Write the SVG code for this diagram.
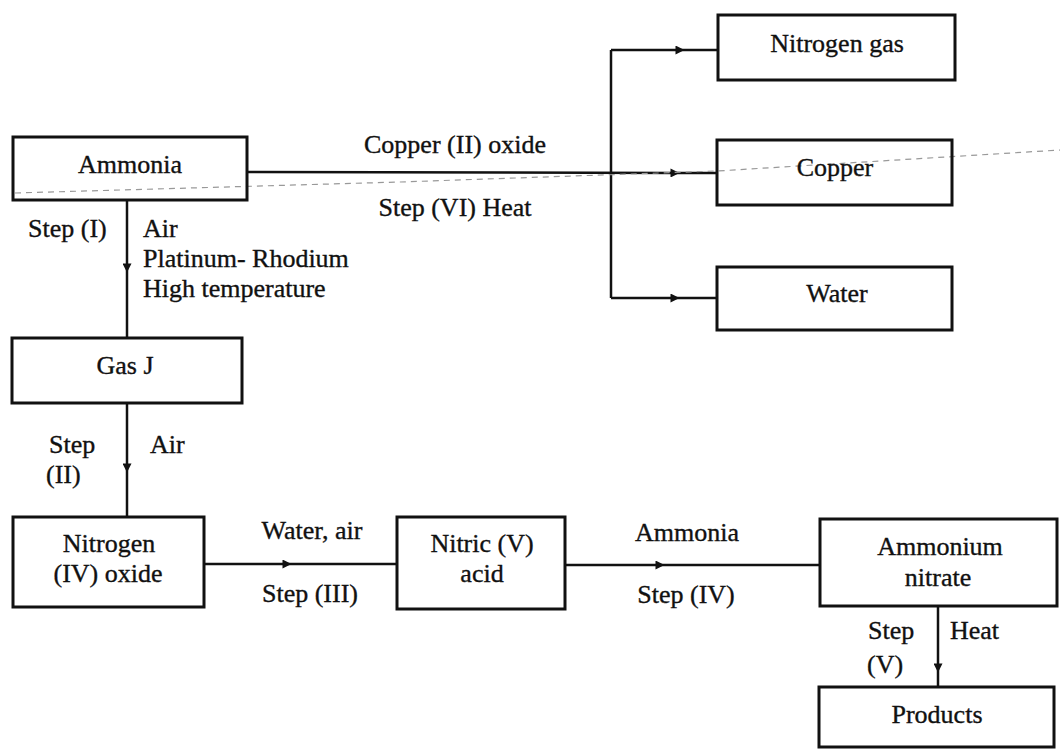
<svg xmlns="http://www.w3.org/2000/svg" width="1062" height="750" viewBox="0 0 1062 750">
<defs>
<style>
.box{fill:none;stroke:#111;stroke-width:3}
.ln{fill:none;stroke:#111;stroke-width:2.5}
.t{font-family:"Liberation Serif","Times New Roman",serif;font-size:26px;fill:#111;stroke:#111;stroke-width:0.35}
.c{text-anchor:middle}
.art{fill:none;stroke:#999;stroke-width:1.2;stroke-dasharray:6 5}
</style>
<marker id="ah" viewBox="0 0 10 10" refX="5" refY="5" markerWidth="14" markerHeight="9" markerUnits="userSpaceOnUse" orient="auto">
<path d="M0,0 L10,5 L0,10 Z" fill="#111"/>
</marker>
</defs>
<rect width="1062" height="750" fill="#fff"/>

<g id="connectors">
<path class="ln" d="M127,200 L127,268 L127,338" marker-mid="url(#ah)"/>
<path class="ln" d="M127,403 L127,468 L127,517" marker-mid="url(#ah)"/>
<path class="ln" d="M204,564 L287,564 L397,564" marker-mid="url(#ah)"/>
<path class="ln" d="M565,565 L660,565 L820,565" marker-mid="url(#ah)"/>
<path class="ln" d="M938,606 L938,668 L938,687" marker-mid="url(#ah)"/>
<path class="ln" d="M247,172 L675,173 L717,173" marker-mid="url(#ah)"/>
<path class="ln" d="M611,50 L611,298"/>
<path class="ln" d="M611,50 L680,50 L718,50" marker-mid="url(#ah)"/>
<path class="ln" d="M611,298 L675,298 L717,298" marker-mid="url(#ah)"/>
<polyline class="art" points="15,193 400,182 717,171 1060,150"/>
</g>

<g id="labels">
<text class="t" x="28" y="237">Step (I)</text>
<text class="t" x="143" y="237">Air</text>
<text class="t" x="143" y="267">Platinum- Rhodium</text>
<text class="t" x="143" y="297">High temperature</text>
<text class="t" x="49" y="453">Step</text>
<text class="t" x="46" y="483">(II)</text>
<text class="t" x="150" y="453">Air</text>
<text class="t c" x="312" y="539">Water, air</text>
<text class="t c" x="310" y="602">Step (III)</text>
<text class="t c" x="687" y="541">Ammonia</text>
<text class="t c" x="686" y="603">Step (IV)</text>
<text class="t" x="868" y="639">Step</text>
<text class="t" x="867" y="673">(V)</text>
<text class="t" x="950" y="639">Heat</text>
<text class="t c" x="455" y="153">Copper (II) oxide</text>
<text class="t c" x="455" y="216">Step (VI) Heat</text>
</g>

<g id="ammonia">
<rect class="box" x="13" y="137" width="234" height="63"/>
<text class="t c" x="130" y="173">Ammonia</text>
</g>
<g id="gasJ">
<rect class="box" x="12" y="338" width="230" height="65"/>
<text class="t c" x="125" y="374">Gas J</text>
</g>
<g id="nitrogen-iv-oxide">
<rect class="box" x="13" y="517" width="191" height="90"/>
<text class="t c" x="109" y="552">Nitrogen</text>
<text class="t c" x="108" y="582">(IV) oxide</text>
</g>
<g id="nitric-acid">
<rect class="box" x="397" y="517" width="168" height="92"/>
<text class="t c" x="482" y="552">Nitric (V)</text>
<text class="t c" x="482" y="582">acid</text>
</g>
<g id="ammonium-nitrate">
<rect class="box" x="820" y="519" width="237" height="87"/>
<text class="t c" x="940" y="555">Ammonium</text>
<text class="t c" x="938" y="586">nitrate</text>
</g>
<g id="products">
<rect class="box" x="819" y="687" width="235" height="60"/>
<text class="t c" x="937" y="723">Products</text>
</g>
<g id="nitrogen-gas">
<rect class="box" x="718" y="15" width="237" height="65"/>
<text class="t c" x="837" y="52">Nitrogen gas</text>
</g>
<g id="copper">
<rect class="box" x="717" y="140" width="235" height="65"/>
<text class="t c" x="835" y="176">Copper</text>
</g>
<g id="water">
<rect class="box" x="717" y="267" width="235" height="63"/>
<text class="t c" x="837" y="302">Water</text>
</g>
</svg>
